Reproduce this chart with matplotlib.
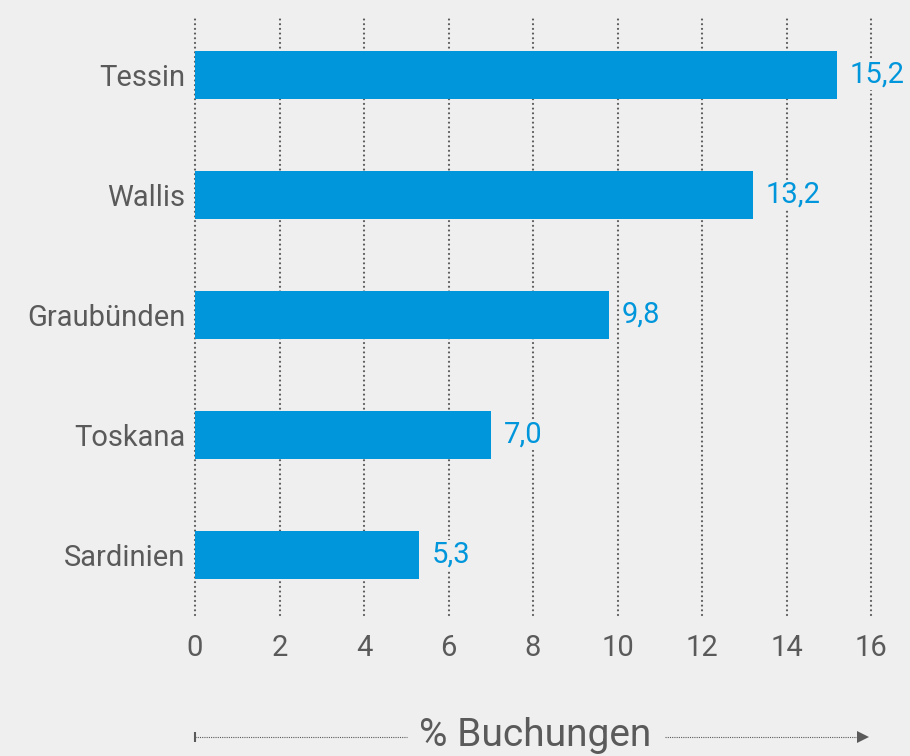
import matplotlib
matplotlib.use("Agg")
import matplotlib.pyplot as plt
import matplotlib.transforms as mtransforms

# Daten
regionen = ["Tessin", "Wallis", "Graubünden", "Toskana", "Sardinien"]
buchungen = [15.2, 13.2, 9.8, 7.0, 5.3]
x_ticks = [0, 2, 4, 6, 8, 10, 12, 14, 16]
x_label = "% Buchungen"

bg = "#efefef"
blau = "#0096db"
grau = "#5a5a5a"

plt.rcParams["font.family"] = ["Roboto", "DejaVu Sans"]

fig = plt.figure(figsize=(9.1, 7.56), dpi=100, facecolor=bg)
ax = fig.add_axes([195 / 910, 1 - 615 / 756, 676 / 910, 600 / 756])
ax.set_facecolor(bg)

pos = list(range(len(regionen)))
ax.barh(pos, buchungen, height=0.4, color=blau, zorder=2)

for p, v in zip(pos, buchungen):
    ax.text(v + 0.3, p, f"{v:.1f}".replace(".", ","), color=blau,
            fontsize=21, va="center", ha="left", zorder=4,
            bbox=dict(facecolor=bg, edgecolor="none", pad=1))

ax.set_xlim(0, 16)
ax.set_ylim(4.5, -0.5)
ax.set_xticks(x_ticks)
ax.set_yticks(pos)
ax.set_yticklabels(regionen)
ax.tick_params(length=0, labelsize=21, colors=grau)
ax.tick_params(axis="x", pad=14)
ax.tick_params(axis="y", pad=7)
for s in ax.spines.values():
    s.set_visible(False)
ax.grid(axis="x", color=grau, linestyle=(0, (0.01, 2.1)), linewidth=1.6,
        zorder=0)
for gl in ax.get_xgridlines():
    gl.set_clip_on(False)
    gl.set_dash_capstyle("round")

# Achsenbeschriftung mit Pfeil
tr = mtransforms.blended_transform_factory(ax.transData, fig.transFigure)
y_arr = 1 - 737 / 756
ax.plot([0, 5.02], [y_arr, y_arr], transform=tr, clip_on=False,
        color=grau, linestyle=(0, (1, 1)), linewidth=0.8)
ax.plot([11.12, 15.75], [y_arr, y_arr], transform=tr, clip_on=False,
        color=grau, linestyle=(0, (1, 1)), linewidth=0.8)
ax.plot([0], [y_arr], transform=tr, clip_on=False, marker="|",
        markersize=7, color=grau, markeredgewidth=1.5)
ax.plot([15.8], [y_arr], transform=tr, clip_on=False, marker=">",
        markersize=9, color=grau, markeredgewidth=0)
fig.text(535 / 910, 1 - 735 / 756, x_label, ha="center", va="center",
         fontsize=28, color=grau)

fig.savefig("out.png", dpi=100, facecolor=bg)
